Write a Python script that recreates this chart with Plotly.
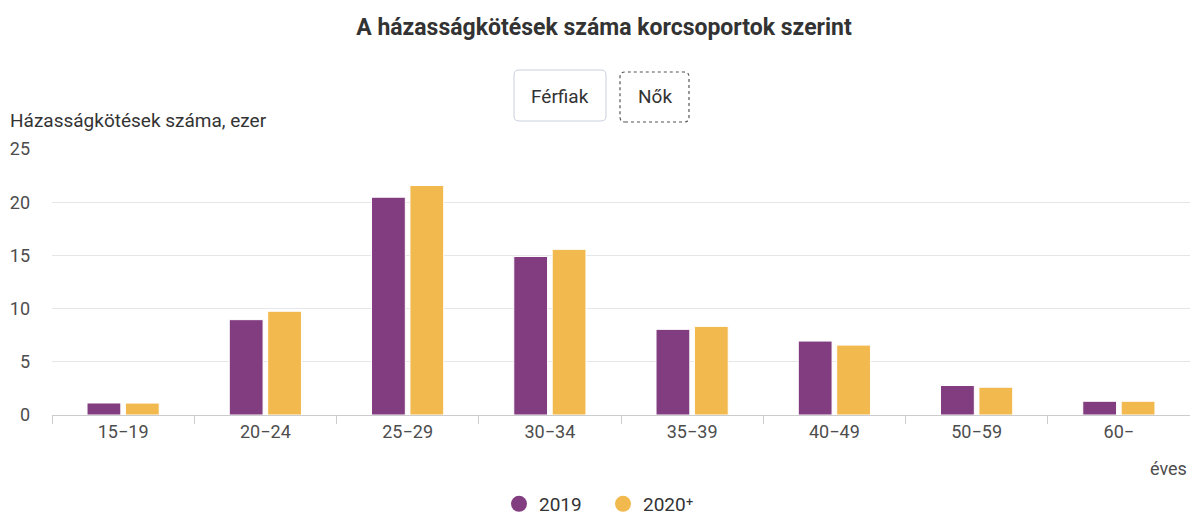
import plotly.graph_objects as go

categories = ["15−19", "20−24", "25−29", "30−34", "35−39", "40−49", "50−59", "60−"]
values_2019 = [1.13, 8.96, 20.47, 14.9, 8.05, 6.95, 2.77, 1.29]
values_2020 = [1.12, 9.75, 21.57, 15.57, 8.33, 6.57, 2.61, 1.29]
series_names = ["2019", "2020⁺"]
y_ticks = [0, 5, 10, 15, 20, 25]

PURPLE = "#823C80"
YELLOW = "#F2B94F"
FONT = "Roboto, 'Open Sans', sans-serif"

W, H = 1190, 523
L, R, T, B = 52, 0, 149, 108
PW = W - L - R
PH = H - T - B


def px_x(px):
    return (px - L) / PW


def px_y(py):
    return (H - B - py) / PH


def rounded_path(w, h, r):
    return (f"M {r},0 L {w - r},0 Q {w},0 {w},{r} L {w},{h - r} Q {w},{h} {w - r},{h} "
            f"L {r},{h} Q 0,{h} 0,{h - r} L 0,{r} Q 0,0 {r},0 Z")


fig = go.Figure()
for name, vals, col in [(series_names[0], values_2019, PURPLE), (series_names[1], values_2020, YELLOW)]:
    fig.add_trace(go.Bar(
        x=categories, y=vals, name=name, marker=dict(color=col, line=dict(color="white", width=1)),
        showlegend=False, legendgroup=name,
    ))
for name, col in [(series_names[0], PURPLE), (series_names[1], YELLOW)]:
    fig.add_trace(go.Scatter(
        x=[None], y=[None], mode="markers", name=name, legendgroup=name,
        marker=dict(color=col, size=16, symbol="circle"),
    ))

fig.update_layout(
    width=W, height=H, autosize=False,
    margin=dict(l=L, r=R, t=T, b=B, pad=0),
    paper_bgcolor="white", plot_bgcolor="white",
    font=dict(family=FONT, color="#333333", size=18),
    title=dict(text="<b>A házasságkötések száma korcsoportok szerint</b>", x=604 / W, xanchor="center",
               y=1 - 27 / H, yref="container", yanchor="middle",
               font=dict(family=FONT, size=23, color="#333333")),
    barmode="group", bargap=0.46, bargroupgap=0.12,
    xaxis=dict(type="category", range=[-0.5, len(categories) - 0.5], showline=True, linecolor="#cccccc",
               linewidth=1, ticks="outside", tickson="boundaries", ticklen=8, tickcolor="#cccccc",
               showgrid=False, tickfont=dict(size=18, color="#4d4d4d"), fixedrange=True),
    yaxis=dict(range=[0, 25], tickvals=y_ticks, showgrid=True, gridcolor="#e6e6e6", gridwidth=1,
               zeroline=False, showline=False, ticks="", ticklabelstandoff=21,
               tickfont=dict(size=18, color="#4d4d4d"), fixedrange=True),
    legend=dict(orientation="h", xref="container", yref="container", x=499 / W, xanchor="left",
                y=-10 / H, yanchor="bottom",
                font=dict(size=19, color="#333333"), itemwidth=30, tracegroupgap=0,
                entrywidth=59, entrywidthmode="pixels"),
    showlegend=True,
)

# y-axis title and unit
fig.add_annotation(text="Házasságkötések száma, ezer", xref="paper", yref="paper", x=px_x(8), y=px_y(121),
                   xanchor="left", yanchor="middle", showarrow=False, font=dict(size=19, color="#333333"))
fig.add_annotation(text="éves", xref="paper", yref="paper", x=px_x(1189), y=px_y(468),
                   xanchor="right", yanchor="middle", showarrow=False, font=dict(size=18, color="#4d4d4d"))

# toggle buttons (visual)
fig.add_shape(type="path", xref="paper", yref="paper", xsizemode="pixel", ysizemode="pixel",
              xanchor=px_x(514), yanchor=px_y(121), path=rounded_path(92, 51, 5),
              line=dict(color="#c9cfdc", width=1), fillcolor="white", layer="above")
fig.add_shape(type="path", xref="paper", yref="paper", xsizemode="pixel", ysizemode="pixel",
              xanchor=px_x(620), yanchor=px_y(122), path=rounded_path(69, 50, 5),
              line=dict(color="#555555", width=1.2, dash="dot"), fillcolor="white", layer="above")
fig.add_annotation(text="Férfiak", xref="paper", yref="paper", x=px_x(560), y=px_y(96),
                   xanchor="center", yanchor="middle", showarrow=False, font=dict(size=19, color="#333333"))
fig.add_annotation(text="Nők", xref="paper", yref="paper", x=px_x(654.5), y=px_y(97),
                   xanchor="center", yanchor="middle", showarrow=False, font=dict(size=19, color="#333333"))

fig.write_html("out.html", config={"displayModeBar": False},
               post_script="document.body.style.margin='0';document.body.style.padding='0';")
